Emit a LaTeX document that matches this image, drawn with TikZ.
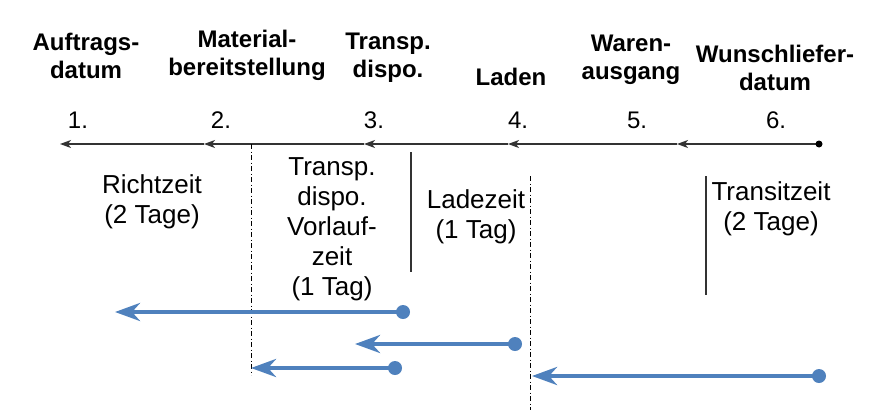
\documentclass[tikz,border=0pt]{standalone}
\usepackage{fontspec}
\setmainfont{Liberation Sans}
\usepackage{tikz}
\usetikzlibrary{arrows.meta}
\definecolor{flowblue}{RGB}{79,129,189}
\tikzstyle{head} = [font=\bfseries\fontsize{24}{28}\selectfont, align=center, inner sep=0pt]
\tikzstyle{num} = [font=\fontsize{24}{28}\selectfont, inner sep=0pt]
\tikzstyle{dauer} = [font=\fontsize{26}{30}\selectfont, align=center, inner sep=0pt]
\tikzstyle{axis} = [draw, line width=1.3pt, color=black!80, -{Stealth[length=11pt,width=8pt,inset=3pt]}]
\tikzstyle{flow} = [draw, line width=4.5pt, color=flowblue, -{Stealth[length=25pt,width=18pt,inset=8pt]}]
\tikzstyle{grenze} = [draw, line width=1.2pt, color=black!80]
\tikzstyle{schnitt} = [draw, line width=1pt, dash pattern=on 5pt off 2.5pt on 1pt off 2.5pt]

\begin{document}
\begin{tikzpicture}[x=1pt, y=-1pt]
				\useasboundingbox (0,0) rectangle (874,410);
				% Place nodes
				\node [head] (auftrag) at (86,56) {Auftrags-\\datum};
				\node [head] (material) at (247,55) {Material-\\bereitstellung};
				\node [head] (dispo) at (388,58) {Transp.\\dispo.};
				\node [head] (laden) at (511,77) {Laden};
				\node [head] (waren) at (631,60) {Waren-\\ausgang};
				\node [head] (wunsch) at (775,68) {Wunschliefer-\\datum};
				
				\node [num] (n1) at (78,120) {1.};
				\node [num] (n2) at (221,120) {2.};
				\node [num] (n3) at (374,120) {3.};
				\node [num] (n4) at (518,120) {4.};
				\node [num] (n5) at (637,120) {5.};
				\node [num] (n6) at (776,120) {6.};
				
				\node [dauer] (richt) at (152,202) {Richtzeit\\(2 Tage)};
				\node [dauer] (vorlauf) at (332,229) {Transp.\\dispo.\\Vorlauf-\\zeit\\(1 Tag)};
				\node [dauer] (ladezeit) at (476,217) {Ladezeit\\(1 Tag)};
				\node [dauer] (transit) at (771,209) {Transitzeit\\(2 Tage)};
				
				\coordinate (t1) at (60,144);
				\coordinate (t2) at (204,144);
				\coordinate (t3) at (364,144);
				\coordinate (t4) at (508,144);
				\coordinate (t5) at (677,144);
				\coordinate (t6) at (819,144);
				
				\coordinate (s1a) at (251,144);
				\coordinate (s1b) at (251,375);
				\coordinate (s2a) at (530,176);
				\coordinate (s2b) at (530,410);
				\coordinate (g1a) at (411,152);
				\coordinate (g1b) at (411,272);
				\coordinate (g2a) at (706,176);
				\coordinate (g2b) at (706,295);
				
				\coordinate (fa) at (403,312);
				\coordinate (fa') at (115,312);
				\coordinate (fb) at (515,344);
				\coordinate (fb') at (355,344);
				\coordinate (fc) at (395,368);
				\coordinate (fc') at (251,368);
				\coordinate (fd) at (819,376);
				\coordinate (fd') at (532,376);
				% Draw edges
				\path [axis] (t6) -- (t5);
				\path [axis] (t5) -- (t4);
				\path [axis] (t4) -- (t3);
				\path [axis] (t3) -- (t2);
				\path [axis] (t2) -- (t1);
				\fill [black] (t6) circle (3.5pt);
				
				\path [schnitt] (s1a) -- (s1b);
				\path [schnitt] (s2a) -- (s2b);
				\path [grenze] (g1a) -- (g1b);
				\path [grenze] (g2a) -- (g2b);
				
				\path [flow] (fa) -- (fa');
				\path [flow] (fb) -- (fb');
				\path [flow] (fc) -- (fc');
				\path [flow] (fd) -- (fd');
				\fill [flowblue] (fa) circle (7pt) (fb) circle (7pt) (fc) circle (7pt) (fd) circle (7pt);
			\end{tikzpicture}
\end{document}
